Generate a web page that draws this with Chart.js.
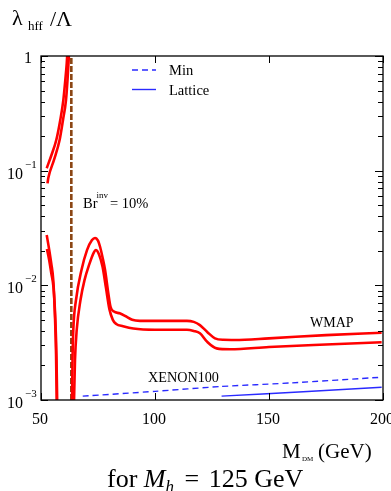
<!DOCTYPE html>
<html>
<head>
<meta charset="utf-8">
<script src="https://cdn.jsdelivr.net/npm/chart.js@4.4.0/dist/chart.umd.min.js"></script>
<style>
  html, body { margin: 0; padding: 0; background: #fff; }
  canvas { display: block; }
</style>
</head>
<body>
<canvas id="chart" width="391" height="491"></canvas>
<script>
// WMAP relic density band (two red curves), three branches each
const topLeftMassA = [52.5, 54.6, 56.7, 58.46, 59.8, 60.66, 61.3, 61.5];
const topLeftLamA  = [0.105, 0.137, 0.185, 0.277, 0.413, 0.617, 0.869, 1.02];
const topLeftMassB = [52.85, 53.2, 55.7, 58.16, 59.65, 60.96, 61.62, 62.06, 62.25];
const topLeftLamB  = [0.0775, 0.0863, 0.124, 0.185, 0.277, 0.413, 0.617, 0.869, 1.02];

const lowLeftMassA = [52.5, 53.5, 54.5, 55.4, 56.1, 56.6, 56.9];
const lowLeftLamA  = [0.0275, 0.021, 0.0155, 0.011, 0.0055, 0.0025, 0.00095];
const lowLeftMassB = [52.6, 53.5, 54.5, 55.5, 56.3, 56.8, 57.1];
const lowLeftLamB  = [0.0207, 0.017, 0.0128, 0.0095, 0.005, 0.0023, 0.00095];

const mainMassA = [63.6, 63.82, 64.17, 65.35, 67.76, 70.18, 72.37, 73.68, 75.0, 75.9, 77.0, 78.1, 79.5, 80.5, 82.0, 84.5, 87.0, 90.0, 93.4, 105, 114, 117, 119.7, 123, 126.3, 130, 135, 150, 175, 199.4];
const mainLamA  = [0.00095, 0.00223, 0.00408, 0.00745, 0.0136, 0.0203, 0.0248, 0.0259, 0.0245, 0.0217, 0.0175, 0.0136, 0.0086, 0.0065, 0.0059, 0.0057, 0.0054, 0.0050, 0.0049, 0.0049, 0.0049, 0.0048, 0.0045, 0.0039, 0.00345, 0.00335, 0.00334, 0.00345, 0.00368, 0.00386];
const mainMassB = [64.47, 64.91, 65.66, 67.32, 69.08, 71.05, 73.25, 74.0, 75.5, 77.0, 78.5, 80.0, 81.5, 83.0, 86.0, 90.5, 100, 114, 117, 119.7, 123, 127, 133, 150, 175, 199.4];
const mainLamB  = [0.00095, 0.00223, 0.00408, 0.00745, 0.0111, 0.0150, 0.0195, 0.0203, 0.0185, 0.0145, 0.0095, 0.0062, 0.0050, 0.0046, 0.0044, 0.0042, 0.0041, 0.0041, 0.0040, 0.00382, 0.0032, 0.00282, 0.00277, 0.0029, 0.00305, 0.00319];

// XENON100 bounds
const minMass = [68.3, 100, 128.5, 160, 199.4];
const minLam  = [0.00108, 0.00119, 0.00131, 0.00141, 0.00158];
const latticeMass = [129.2, 165, 199.4];
const latticeLam  = [0.00108, 0.00118, 0.00129];

// Br(inv) = 10% line
const brMass = [63.3, 63.3];
const brLam  = [0.001, 1];

const xTicks = [50, 100, 150, 200];
const yTicks = [0.001, 0.01, 0.1, 1];
const yTickExp = ['\u22123', '\u22122', '\u22121', null];

const SERIF = "'Liberation Serif', 'DejaVu Serif', serif";
const RED = '#ff0000';
const BLUE = '#2a2aff';

function pts(xs, ys) {
  return xs.map(function (x, i) { return { x: x, y: ys[i] }; });
}

function redLine(xs, ys) {
  return {
    data: pts(xs, ys),
    borderColor: RED,
    borderWidth: 2.6,
    pointRadius: 0,
    cubicInterpolationMode: 'monotone',
    fill: false,
  };
}

const datasets = [
  redLine(topLeftMassA, topLeftLamA),
  redLine(topLeftMassB, topLeftLamB),
  redLine(lowLeftMassA, lowLeftLamA),
  redLine(lowLeftMassB, lowLeftLamB),
  redLine(mainMassA, mainLamA),
  redLine(mainMassB, mainLamB),
  {
    label: 'Min',
    data: pts(minMass, minLam),
    borderColor: BLUE,
    borderWidth: 1.4,
    borderDash: [6, 4],
    pointRadius: 0,
    tension: 0.2,
  },
  {
    label: 'Lattice',
    data: pts(latticeMass, latticeLam),
    borderColor: BLUE,
    borderWidth: 1.4,
    pointRadius: 0,
    tension: 0.2,
  },
  {
    data: pts(brMass, brLam),
    borderColor: '#8b4513',
    borderWidth: 2.6,
    borderDash: [6, 2],
    pointRadius: 0,
  },
];

function text(ctx, s, x, y, size, style, align) {
  ctx.font = (style || '') + ' ' + size + 'px ' + SERIF;
  ctx.textAlign = align || 'left';
  ctx.fillText(s, x, y);
  return ctx.measureText(s).width;
}

const axesPlugin = {
  id: 'axesPlugin',
  afterDatasetsDraw: function (chart) {
    const ctx = chart.ctx;
    const a = chart.chartArea;
    const xs = chart.scales.x;
    const ys = chart.scales.y;

    ctx.save();
    ctx.strokeStyle = '#000';
    ctx.fillStyle = '#000';
    ctx.lineWidth = 1.3;
    ctx.strokeRect(a.left, a.top, a.right - a.left, a.bottom - a.top);

    ctx.lineWidth = 1;
    ctx.beginPath();
    // x ticks (inside, top and bottom)
    xTicks.forEach(function (v) {
      const px = Math.round(xs.getPixelForValue(v)) + 0.5;
      ctx.moveTo(px, a.bottom); ctx.lineTo(px, a.bottom - 7);
      ctx.moveTo(px, a.top); ctx.lineTo(px, a.top + 7);
    });
    // y ticks, major and log minors
    yTicks.forEach(function (v, i) {
      const py = Math.round(ys.getPixelForValue(v)) + 0.5;
      ctx.moveTo(a.left, py); ctx.lineTo(a.left + 7, py);
      ctx.moveTo(a.right, py); ctx.lineTo(a.right - 8, py);
      if (i < yTicks.length - 1) {
        for (let m = 2; m <= 9; m++) {
          const pm = Math.round(ys.getPixelForValue(v * m)) + 0.5;
          ctx.moveTo(a.left, pm); ctx.lineTo(a.left + 4, pm);
          ctx.moveTo(a.right, pm); ctx.lineTo(a.right - 5, pm);
        }
      }
    });
    ctx.stroke();

    // tick labels
    ctx.textBaseline = 'alphabetic';
    xTicks.forEach(function (v) {
      text(ctx, String(v), xs.getPixelForValue(v) - 1, a.bottom + 24, 16, '', 'center');
    });
    yTicks.forEach(function (v, i) {
      const py = ys.getPixelForValue(v);
      if (yTickExp[i]) {
        text(ctx, '10', 7, py + 8, 16, '', 'left');
        text(ctx, yTickExp[i], 25, py - 3, 11, '', 'left');
      } else {
        text(ctx, '1', 24, py + 7, 16, '', 'left');
      }
    });

    // legend
    [6, 7].forEach(function (di, k) {
      const ds = chart.data.datasets[di];
      const ly = 70 + k * 19.5;
      ctx.beginPath();
      ctx.strokeStyle = ds.borderColor;
      ctx.lineWidth = ds.borderWidth;
      ctx.setLineDash(ds.borderDash || []);
      ctx.moveTo(132, ly); ctx.lineTo(156, ly);
      ctx.stroke();
      ctx.setLineDash([]);
      text(ctx, ds.label, 169, ly + 5, 14.5, '', 'left');
    });

    // annotations
    let w = text(ctx, 'Br', 83, 208, 14.5, '', 'left');
    text(ctx, 'inv', 83 + w - 1, 198, 9, '', 'left');
    text(ctx, '= 10%', 110, 208, 14.5, '', 'left');
    text(ctx, 'WMAP', 310, 327, 14, '', 'left');
    text(ctx, 'XENON100', 148, 382, 14.2, '', 'left');

    // y axis title
    text(ctx, '\u03bb', 12, 25, 22, '', 'left');
    text(ctx, 'hff', 28, 30, 13, '', 'left');
    text(ctx, '/\u039b', 50, 26, 22, '', 'left');

    // x axis title
    text(ctx, 'M', 282, 458, 21, '', 'left');
    text(ctx, 'DM', 302, 461, 7, '', 'left');
    text(ctx, '(GeV)', 318, 458, 21, '', 'left');

    // caption
    let cx = 107;
    cx += text(ctx, 'for ', cx, 487, 26, '', 'left');
    cx += text(ctx, 'M', cx, 487, 26, 'italic', 'left');
    cx += text(ctx, 'h', cx, 492, 17, 'italic', 'left');
    cx += 4;
    cx += text(ctx, ' = ', cx, 487, 26, '', 'left') + 3;
    text(ctx, '125 GeV', cx, 487, 26, '', 'left');
    ctx.restore();
  }
};

new Chart(document.getElementById('chart'), {
  type: 'line',
  data: { datasets: datasets },
  options: {
    responsive: false,
    devicePixelRatio: 1,
    animation: false,
    layout: { padding: { left: 41, right: 8, top: 56, bottom: 91 } },
    plugins: { legend: { display: false }, tooltip: { enabled: false } },
    scales: {
      x: { type: 'linear', min: 50, max: 200, display: false },
      y: { type: 'logarithmic', min: 0.001, max: 1, display: false },
    },
  },
  plugins: [axesPlugin],
});
</script>
</body>
</html>
